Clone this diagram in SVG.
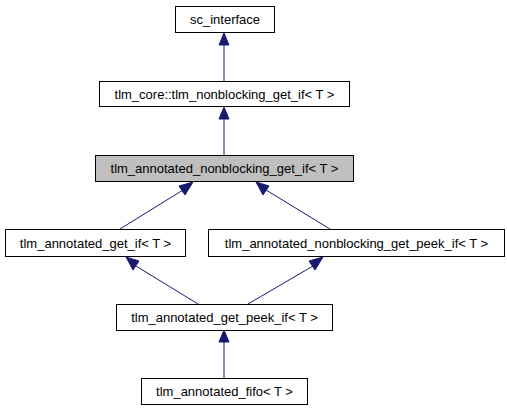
<svg xmlns="http://www.w3.org/2000/svg" width="507" height="411" viewBox="0 0 507 411">
<style>
.n{fill:#fff;stroke:#000;stroke-width:1}
.g{fill:#bfbfbf;stroke:#000;stroke-width:1}
text{font-family:"Liberation Sans",Arial,sans-serif;font-size:13px;fill:#000;text-anchor:middle}
.e{stroke:#191970;stroke-width:1;fill:none}
.h{fill:#191970;stroke:#191970}
</style>
<rect width="507" height="411" fill="#fff"/>
<g id="edges">
<line class="e" x1="224" y1="81" x2="224" y2="44"/>
<polygon class="h" points="224,33 219,45 229,45"/>
<line class="e" x1="224" y1="155" x2="224" y2="118"/>
<polygon class="h" points="224,107 219,119 229,119"/>
<line class="e" x1="120" y1="229" x2="183" y2="190"/>
<polygon class="h" points="193,182 179,186 185,195"/>
<line class="e" x1="330" y1="229" x2="266" y2="190"/>
<polygon class="h" points="256,182 263,195 269,186"/>
<line class="e" x1="198" y1="304" x2="136" y2="266"/>
<polygon class="h" points="126,257 133,270 139,261"/>
<line class="e" x1="248" y1="304" x2="313" y2="266"/>
<polygon class="h" points="323,257 309,261 315,270"/>
<line class="e" x1="224" y1="378" x2="224" y2="341"/>
<polygon class="h" points="224,330 219,342 229,342"/>
</g>
<g id="sc_interface"><rect class="n" x="175.5" y="6.5" width="99" height="26"/><text x="225" y="24">sc_interface</text></g>
<g id="tlm_nonblocking_get_if"><rect class="n" x="99.5" y="81.5" width="250" height="25"/><text x="224.5" y="99">tlm_core::tlm_nonblocking_get_if&lt; T &gt;</text></g>
<g id="tlm_annotated_nonblocking_get_if"><rect class="g" x="95.5" y="155.5" width="258" height="26"/><text x="224.5" y="173">tlm_annotated_nonblocking_get_if&lt; T &gt;</text></g>
<g id="tlm_annotated_get_if"><rect class="n" x="5.5" y="229.5" width="180" height="27"/><text x="95.5" y="248">tlm_annotated_get_if&lt; T &gt;</text></g>
<g id="tlm_annotated_nonblocking_get_peek_if"><rect class="n" x="208.5" y="229.5" width="296" height="27"/><text x="356.5" y="248">tlm_annotated_nonblocking_get_peek_if&lt; T &gt;</text></g>
<g id="tlm_annotated_get_peek_if"><rect class="n" x="116.5" y="304.5" width="216" height="26"/><text x="224.5" y="322">tlm_annotated_get_peek_if&lt; T &gt;</text></g>
<g id="tlm_annotated_fifo"><rect class="n" x="141.5" y="378.5" width="166" height="26"/><text x="224.5" y="396">tlm_annotated_fifo&lt; T &gt;</text></g>
</svg>
